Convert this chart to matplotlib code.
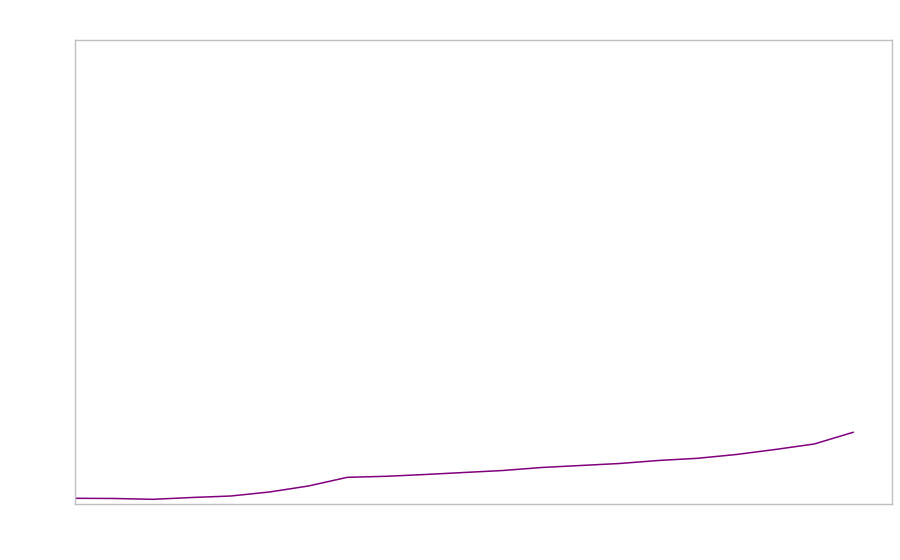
import matplotlib
matplotlib.use("Agg")
import matplotlib.pyplot as plt

x_values = list(range(21))
y_values = [1.23, 1.19, 1.01, 1.40, 1.72, 2.59, 3.88, 5.75, 5.97, 6.36, 6.79,
            7.22, 7.87, 8.30, 8.73, 9.38, 9.85, 10.67, 11.75, 12.93, 15.45]

fig = plt.figure(figsize=(9, 5.6), dpi=100)
ax = fig.add_axes([75/900, 56/560, 817/900, 464/560])
ax.plot(x_values, y_values, color="#800080", linewidth=1.1)
ax.set_xlim(0, 21)
ax.set_ylim(0, 100)
ax.set_xticks([])
ax.set_yticks([])
for s in ax.spines.values():
    s.set_color("#bfbfbf")
    s.set_linewidth(1.0)
fig.savefig("out.png", dpi=100, facecolor="white")
